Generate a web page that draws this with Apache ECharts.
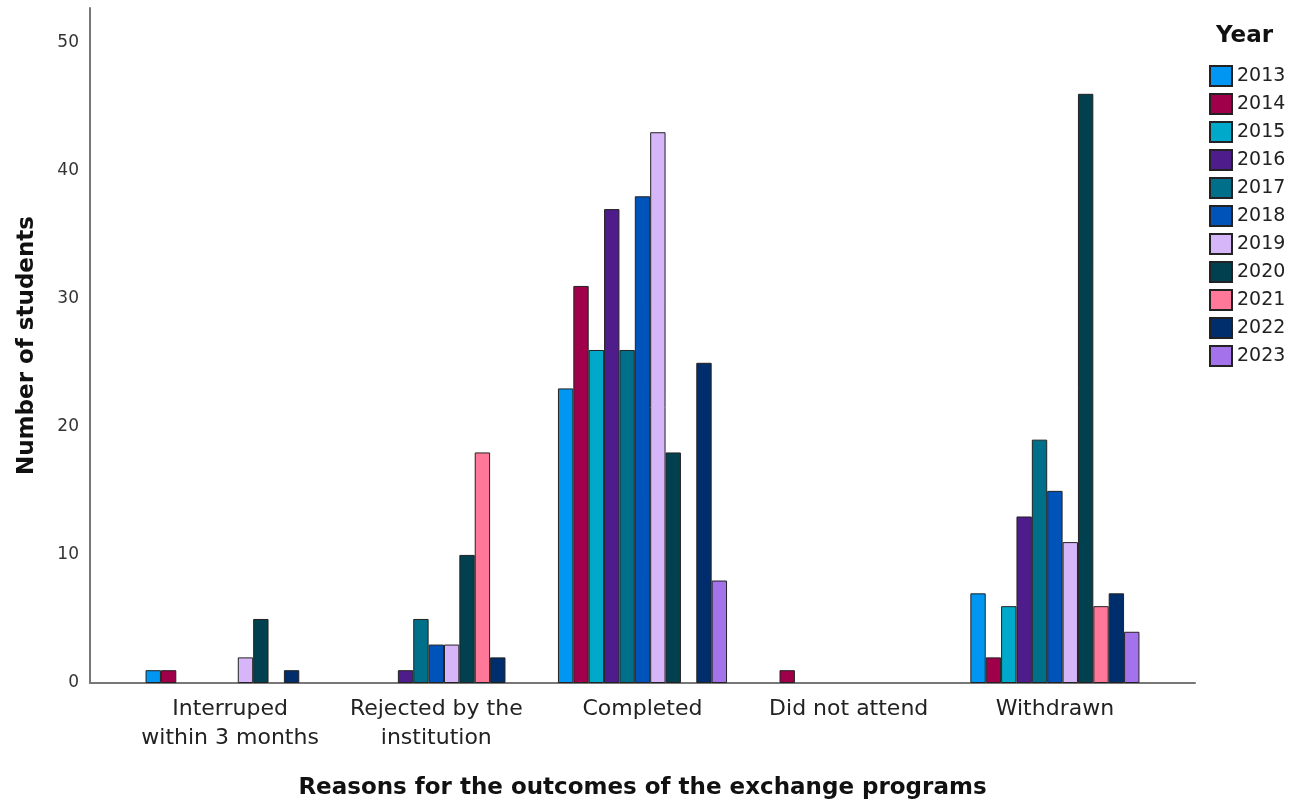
<!DOCTYPE html>
<html>
<head>
<meta charset="utf-8">
<script src="https://cdn.jsdelivr.net/npm/echarts@6/dist/echarts.min.js"></script>
<style>html,body{margin:0;padding:0;background:#fff;}#c{width:1299px;height:808px;}</style>
</head>
<body>
<div id="c"></div>
<script>
const categories = ['Interruped\nwithin 3 months', 'Rejected by the\ninstitution', 'Completed', 'Did not attend', 'Withdrawn'];
const years = ['2013','2014','2015','2016','2017','2018','2019','2020','2021','2022','2023'];
const colors = ['#0096f2','#a0004a','#00a9c9','#4f1c8c','#00708a','#0053b9','#d6b5f9','#01404f','#ff7799','#002e6c','#a473ec'];
const v2013 = [1, 0, 23, 0, 7];
const v2014 = [1, 0, 31, 1, 2];
const v2015 = [0, 0, 26, 0, 6];
const v2016 = [0, 1, 37, 0, 13];
const v2017 = [0, 5, 26, 0, 19];
const v2018 = [0, 3, 38, 0, 15];
const v2019 = [2, 3, 43, 0, 11];
const v2020 = [5, 10, 18, 0, 46];
const v2021 = [0, 18, 0, 0, 6];
const v2022 = [1, 2, 25, 0, 7];
const v2023 = [0, 0, 8, 0, 4];
const yTicks = [0, 10, 20, 30, 40, 50];
const allValues = [v2013,v2014,v2015,v2016,v2017,v2018,v2019,v2020,v2021,v2022,v2023];

const FONT = 'DejaVu Sans';
const YMAX = 52.7;

const series = years.map((y, i) => ({
  name: y,
  type: 'bar',
  xAxisIndex: 1,
  yAxisIndex: 1,
  data: allValues[i].map(v => v === 0 ? '-' : v),
  barGap: '0%',
  barCategoryGap: '18%',
  itemStyle: { color: colors[i], borderColor: '#222', borderWidth: 1 },
  emphasis: { disabled: true }
}));

const chart = echarts.init(document.getElementById('c'));
chart.setOption({
  animation: false,
  backgroundColor: '#fff',
  grid: [
    { left: 90, right: 104, top: 8, bottom: 125, containLabel: false, outerBoundsMode: 'none' },
    { left: 127, right: 141, top: 8, bottom: 125, containLabel: false, outerBoundsMode: 'none' }
  ],
  title: {
    text: 'Year', left: 1216, top: 25, padding: 0,
    textStyle: { fontFamily: FONT, fontWeight: 'bold', fontSize: 23, color: '#111' }
  },
  legend: {
    orient: 'vertical', left: 1209, top: 65, padding: 0,
    itemWidth: 22, itemHeight: 20, itemGap: 6,
    icon: 'rect',
    textStyle: { fontFamily: FONT, fontSize: 19, color: '#222' },
    data: years
  },
  xAxis: [
    { type: 'value', gridIndex: 0, min: 0, max: 1,
      axisLine: { show: true, lineStyle: { color: '#777', width: 2 } },
      axisTick: { show: false }, axisLabel: { show: false }, splitLine: { show: false } },
    { type: 'category', gridIndex: 1, data: categories,
      axisLine: { show: false }, axisTick: { show: false }, splitLine: { show: false },
      axisLabel: { interval: 0, fontFamily: FONT, fontSize: 22, color: '#222', lineHeight: 29, margin: 12 },
      name: 'Reasons for the outcomes of the exchange programs',
      nameLocation: 'middle', nameGap: 94,
      nameTextStyle: { fontFamily: FONT, fontWeight: 'bold', fontSize: 23, color: '#111' } }
  ],
  yAxis: [
    { type: 'value', gridIndex: 0, min: 0, max: YMAX, interval: 10,
      axisLine: { show: true, lineStyle: { color: '#777', width: 2 } },
      axisTick: { show: false }, splitLine: { show: false },
      axisLabel: { fontFamily: FONT, fontSize: 17, color: '#333', margin: 11,
        formatter: v => yTicks.includes(v) ? String(v) : '' },
      name: 'Number of students', nameLocation: 'middle', nameGap: 51, nameRotate: 90,
      nameTextStyle: { fontFamily: FONT, fontWeight: 'bold', fontSize: 23, color: '#111' } },
    { type: 'value', gridIndex: 1, min: 0, max: YMAX, show: false }
  ],
  series: series
});
</script>
</body>
</html>
